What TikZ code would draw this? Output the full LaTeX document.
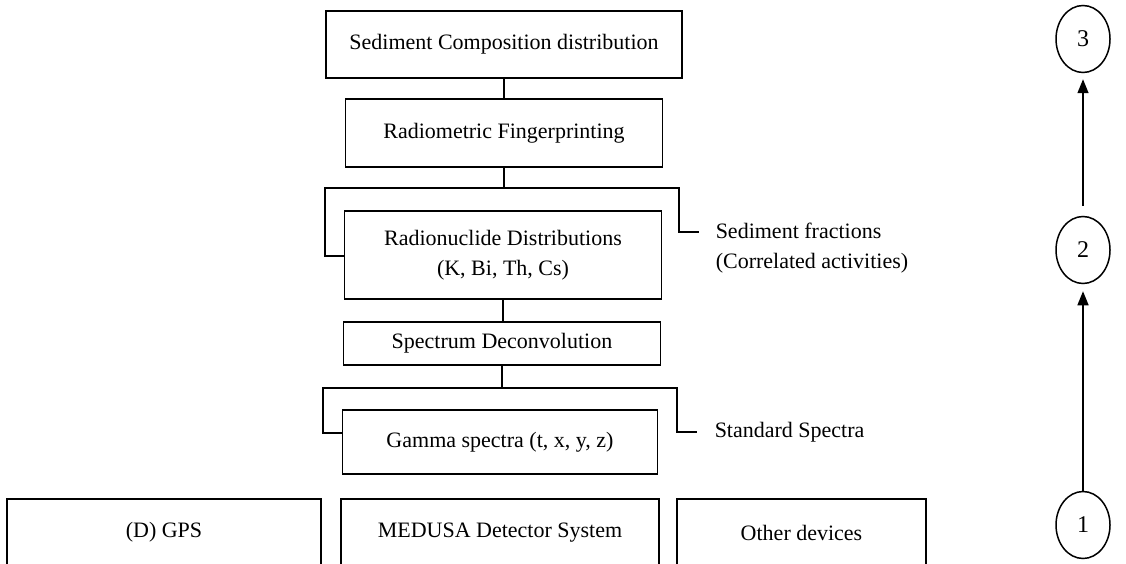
\documentclass[tikz,border=0pt]{standalone}
\usepackage{fontspec}
\setmainfont{Liberation Serif}
\usetikzlibrary{arrows.meta,shapes.geometric}
\begin{document}
\begin{tikzpicture}[x=1pt,y=-1pt,
  line width=1.5pt,
  txt/.style={font=\fontsize{22}{30}\selectfont, inner sep=0pt},
  stepbox/.style={draw, txt, align=center, line width=1.5pt},
  stage/.style={draw, ellipse, minimum width=54pt, minimum height=67pt,
                inner sep=0pt, font=\fontsize{24}{28}\selectfont},
  link/.style={line width=1.5pt},
  up/.style={-{Triangle[length=14pt,width=11pt]}, line width=1.5pt}]
\useasboundingbox (0,0) rectangle (1126,564);
\clip (0,0) rectangle (1126,564);

% processing chain, all centred on one vertical axis
\node[stepbox, minimum width=356pt, minimum height=67pt] (comp) at (504,44.5)
  {Sediment Composition distribution};
\node[stepbox, minimum width=317pt, minimum height=68pt] (fing) at (504,133)
  {Radiometric Fingerprinting};
\node[stepbox, minimum width=317pt, minimum height=88pt] (nucl) at (503,255)
  {Radionuclide Distributions\\(K, Bi, Th, Cs)};
\node[stepbox, minimum width=317pt, minimum height=43pt] (deco) at (502,343.5)
  {Spectrum Deconvolution};
\node[stepbox, minimum width=315pt, minimum height=64pt] (gamma) at (500,442)
  {Gamma spectra (t, x, y, z)};

% side inputs
\node[txt, anchor=west, align=left] (frac) at (715,248)
  {Sediment fractions\\(Correlated activities)};
\node[txt, anchor=west] (std) at (714,432) {Standard Spectra};

% instruments (boxes run off the lower edge)
\node[stepbox, minimum width=314pt, minimum height=67pt] (gps) at (164,532.5)
  {(D) GPS};
\node[stepbox, minimum width=318pt, minimum height=67pt] (medusa) at (500,532.5)
  {MEDUSA Detector System};
\node[stepbox, minimum width=249pt, minimum height=67pt] (other) at (801.5,532.5)
  {Other devices};

% bracket corners
\coordinate (b1l) at (325,188);
\coordinate (b1r) at (679,188);
\coordinate (f1) at (699,232);
\coordinate (b2l) at (323,388);
\coordinate (b2r) at (677,388);
\coordinate (f2) at (697,432);

% connectors
\draw[link] (comp.south) -- (comp.south |- fing.north);
\draw[link] (fing.south) -- (fing.south |- b1l);
\draw[link] (nucl.west |- 0,256) -| (b1l) -- (b1r) |- (f1);
\draw[link] (nucl.south) -- (nucl.south |- deco.north);
\draw[link] (deco.south) -- (deco.south |- b2l);
\draw[link] (gamma.west |- 0,433) -| (b2l) -- (b2r) |- (f2);

% stages
\node[stage] (s3) at (1083,39) {3};
\node[stage] (s2) at (1083,250) {2};
\node[stage] (s1) at (1083,525) {1};
\draw[up, shorten >=7pt] (s1.north) -- (s2.south);
\draw[up, shorten <=10pt, shorten >=6pt] (s2.north) -- (s3.south);
\end{tikzpicture}
\end{document}
